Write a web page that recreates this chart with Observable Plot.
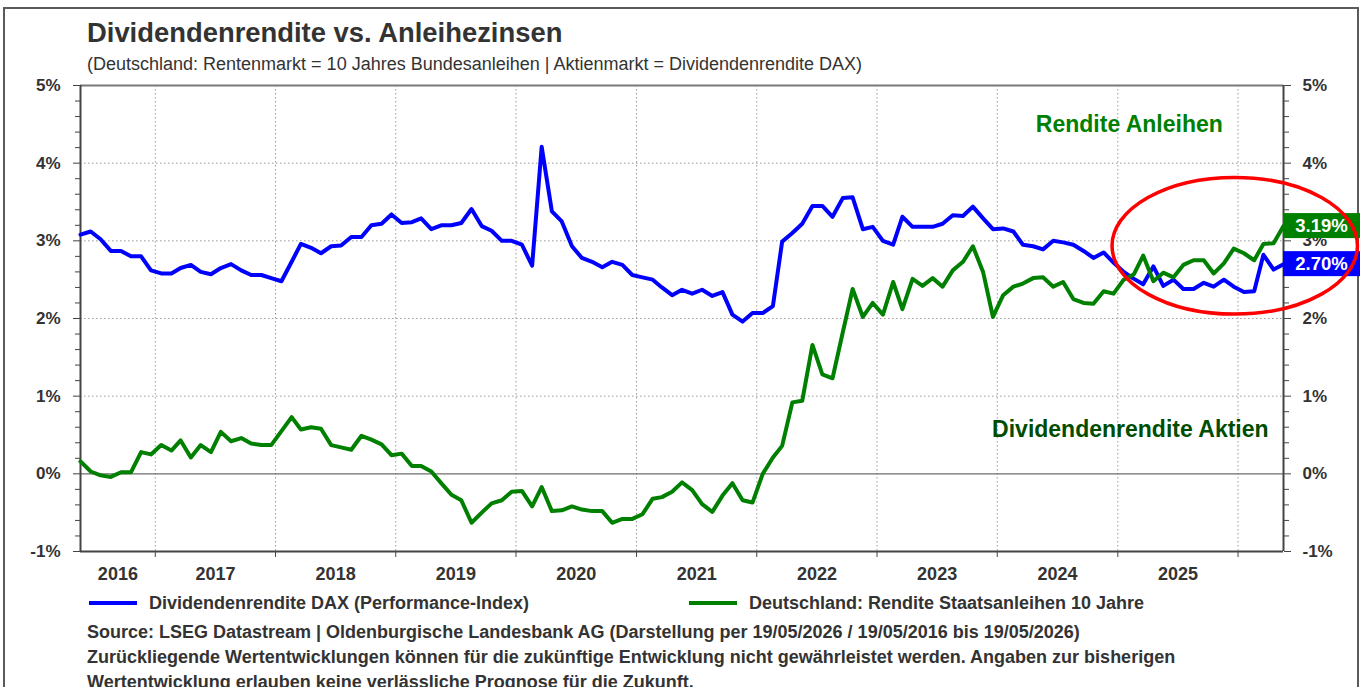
<!DOCTYPE html>
<html>
<head>
<meta charset="utf-8">
<script src="https://cdn.jsdelivr.net/npm/d3@7"></script>
<script src="https://cdn.jsdelivr.net/npm/@observablehq/plot@0.6"></script>
<style>
  html, body { margin: 0; padding: 0; background: #fff; }
  body { width: 1366px; height: 687px; position: relative; overflow: hidden;
         font-family: "Liberation Sans", Arial, sans-serif; color: #333; }
  #frame { position: absolute; left: 3px; top: 7px; width: 1356px; height: 720px;
           border: 2px solid #5a5a5a; box-sizing: border-box; }
  .abs { position: absolute; white-space: nowrap; }
  #title { left: 87px; top: 19px; font-size: 27.4px; line-height: 28px; font-weight: bold; }
  #subtitle { left: 87px; top: 55px; font-size: 18px; line-height: 18px; }
  #chart { position: absolute; left: 0; top: 70px; }
  .leg { top: 594px; font-size: 18px; line-height: 18px; font-weight: bold; display: flex; align-items: center; }
  .sw { display: inline-block; width: 48px; height: 4px; margin-right: 12px; }
  #source { left: 87px; top: 620px; font-size: 18px; line-height: 25px; font-weight: bold; }
</style>
</head>
<body>
<div id="frame"></div>
<div id="title" class="abs">Dividendenrendite vs. Anleihezinsen</div>
<div id="subtitle" class="abs">(Deutschland: Rentenmarkt = 10 Jahres Bundesanleihen | Aktienmarkt = Dividendenrendite DAX)</div>
<div id="chart"></div>
<div class="abs leg" style="left:89px"><span class="sw" style="background:#0000ff"></span>Dividendenrendite DAX (Performance-Index)</div>
<div class="abs leg" style="left:689px"><span class="sw" style="background:#008000"></span>Deutschland: Rendite Staatsanleihen 10 Jahre</div>
<div id="source" class="abs">Source: LSEG Datastream | Oldenburgische Landesbank AG (Darstellung per 19/05/2026 / 19/05/2016 bis 19/05/2026)<br>Zurückliegende Wertentwicklungen können für die zukünftige Entwicklung nicht gewährleistet werden. Angaben zur bisherigen<br>Wertentwicklung erlauben keine verlässliche Prognose für die Zukunft.</div>
<script>
// ---- data (monthly observations, 19/05/2016 .. 19/05/2026) ----
const startDate = new Date("2016-05-19T00:00:00Z");
const endDate = new Date("2026-05-19T00:00:00Z");

const dividendYieldDAX = [
  3.08, 3.12, 3.02, 2.87, 2.87, 2.80, 2.80, 2.62, 2.58, 2.58,
  2.65, 2.69, 2.60, 2.57, 2.65, 2.70, 2.62, 2.56, 2.56, 2.52,
  2.48, 2.73, 2.96, 2.91, 2.84, 2.93, 2.94, 3.05, 3.05, 3.20,
  3.22, 3.34, 3.23, 3.24, 3.29, 3.15, 3.20, 3.20, 3.23, 3.41,
  3.19, 3.13, 3.00, 3.00, 2.95, 2.68, 4.21, 3.38, 3.25, 2.93,
  2.78, 2.73, 2.66, 2.73, 2.69, 2.56, 2.53, 2.50, 2.40, 2.30,
  2.37, 2.32, 2.37, 2.29, 2.34, 2.05, 1.96, 2.07, 2.07, 2.16,
  2.99, 3.10, 3.22, 3.45, 3.45, 3.31, 3.55, 3.56, 3.15, 3.18,
  3.00, 2.95, 3.31, 3.18, 3.18, 3.18, 3.22, 3.33, 3.32, 3.44,
  3.29, 3.15, 3.16, 3.12, 2.95, 2.93, 2.89, 3.00, 2.98, 2.95,
  2.87, 2.78, 2.85, 2.72, 2.60, 2.51, 2.44, 2.67, 2.42, 2.50,
  2.38, 2.38, 2.46, 2.41, 2.50, 2.41, 2.34, 2.35, 2.82, 2.63,
  2.70
];
const bundYield10Y = [
  0.16, 0.03, -0.02, -0.04, 0.02, 0.02, 0.28, 0.25, 0.37, 0.30,
  0.43, 0.21, 0.37, 0.28, 0.54, 0.42, 0.46, 0.39, 0.37, 0.37,
  0.55, 0.73, 0.57, 0.60, 0.58, 0.37, 0.34, 0.31, 0.49, 0.44,
  0.38, 0.24, 0.26, 0.10, 0.10, 0.03, -0.12, -0.27, -0.34, -0.63,
  -0.50, -0.38, -0.34, -0.23, -0.22, -0.42, -0.17, -0.48, -0.47, -0.42,
  -0.46, -0.48, -0.48, -0.63, -0.58, -0.58, -0.52, -0.32, -0.30, -0.23,
  -0.11, -0.21, -0.39, -0.49, -0.28, -0.12, -0.34, -0.37, 0.00, 0.21,
  0.36, 0.92, 0.94, 1.66, 1.28, 1.23, 1.82, 2.38, 2.02, 2.20,
  2.05, 2.47, 2.12, 2.51, 2.42, 2.52, 2.41, 2.62, 2.73, 2.93,
  2.60, 2.02, 2.30, 2.41, 2.45, 2.52, 2.53, 2.41, 2.47, 2.25,
  2.20, 2.19, 2.35, 2.32, 2.50, 2.57, 2.81, 2.48, 2.59, 2.53,
  2.69, 2.75, 2.75, 2.58, 2.71, 2.90, 2.84, 2.75, 2.96, 2.97,
  3.19
];
const lastDAX = "2.70%";
const lastBund = "3.19%";

const yearLabels = [2016, 2017, 2018, 2019, 2020, 2021, 2022, 2023, 2024, 2025];
const yearBoundaries = [2017, 2018, 2019, 2020, 2021, 2022, 2023, 2024, 2025, 2026];
const yMajorTicks = [-1, 0, 1, 2, 3, 4, 5];
const yGridTicks = [1, 2, 3, 4];
const yMinorTicks = [-0.8, -0.6, -0.4, -0.2, 0.2, 0.4, 0.6, 0.8, 1.2, 1.4, 1.6, 1.8,
  2.2, 2.4, 2.6, 2.8, 3.2, 3.4, 3.6, 3.8, 4.2, 4.4, 4.6, 4.8];

const annotations = [
  {date: new Date("2025-02-05T00:00:00Z"), value: 4.49, text: "Rendite Anleihen", color: "#008000"},
  {date: new Date("2025-02-08T00:00:00Z"), value: 0.57, text: "Dividendenrendite Aktien", color: "#004d00"}
];
const ellipseBounds = {x1: new Date("2024-12-16T00:00:00Z"), x2: new Date("2026-12-31T00:00:00Z"), y1: 3.81, y2: 2.05};

// ---- build tables ----
const dates = dividendYieldDAX.map((_, i) => d3.utcMonth.offset(startDate, i));
const daxData = dates.map((d, i) => ({date: d, value: dividendYieldDAX[i]}));
const bundData = dates.map((d, i) => ({date: d, value: bundYield10Y[i]}));
const yearTicks = yearBoundaries.map(y => new Date(Date.UTC(y, 0, 1)));
const yearLabelData = yearLabels.map(y => {
  const a = Math.max(+new Date(Date.UTC(y, 0, 1)), +startDate);
  const b = Math.min(+new Date(Date.UTC(y + 1, 0, 1)), +endDate);
  return {date: new Date((a + b) / 2), text: String(y)};
});

const W = 1366, H = 520;
const plot = Plot.plot({
  width: W, height: H,
  marginLeft: 80, marginRight: 83, marginTop: 15, marginBottom: 39,
  x: {type: "utc", domain: [startDate, endDate]},
  y: {domain: [-1, 5]},
  style: {fontFamily: "'Liberation Sans', Arial, sans-serif", color: "#333", background: "transparent", overflow: "visible"},
  marks: [
    Plot.gridY(yGridTicks, {stroke: "#9a9a9a", strokeOpacity: 1, strokeDasharray: "1.5,2.5"}),
    Plot.gridX(yearTicks, {stroke: "#9a9a9a", strokeOpacity: 1, strokeDasharray: "1.5,2.5"}),
    Plot.ruleY([0], {stroke: "#6e6e6e", strokeWidth: 1.3}),
    Plot.ruleY([5], {stroke: "#7a7a7a", strokeWidth: 2}),
    Plot.ruleY([-1], {stroke: "#444", strokeWidth: 2}),
    Plot.ruleX([startDate], {stroke: "#444", strokeWidth: 2}),
    Plot.ruleX([endDate], {stroke: "#444", strokeWidth: 2}),
    Plot.axisY(yMinorTicks, {anchor: "left", tickSize: 5, tickFormat: () => "", stroke: "#444", label: null}),
    Plot.axisY(yMinorTicks, {anchor: "right", tickSize: 5, tickFormat: () => "", stroke: "#444", label: null}),
    Plot.axisY(yMajorTicks, {anchor: "left", tickSize: 7, tickPadding: 13, tickFormat: d => d + "%",
      fontSize: 17, fontWeight: "bold", stroke: "#444", label: null}),
    Plot.axisY(yMajorTicks, {anchor: "right", tickSize: 7, tickPadding: 12, tickFormat: d => d + "%",
      fontSize: 17, fontWeight: "bold", stroke: "#444", label: null}),
    Plot.axisX(yearTicks, {anchor: "bottom", tickSize: 6, tickFormat: () => "", stroke: "#444", label: null}),
    Plot.text(yearLabelData, {x: "date", y: () => -1, dy: 23, text: "text", fontSize: 18, fontWeight: "bold", fill: "#333"}),
    Plot.line(daxData, {x: "date", y: "value", stroke: "#0000ff", strokeWidth: 4}),
    Plot.line(bundData, {x: "date", y: "value", stroke: "#008000", strokeWidth: 4}),
    Plot.text(annotations, {x: "date", y: "value", text: "text", fill: "color", fontSize: 23, fontWeight: "bold"})
  ]
});
document.getElementById("chart").appendChild(plot);

// ---- last-value boxes and highlight ellipse, positioned through the plot's scales ----
const xs = plot.scale("x"), ys = plot.scale("y");
const svg = d3.select(plot);
const boxX = W - 83, boxW = 77, boxH = 25;
[[bundYield10Y[bundYield10Y.length - 1], lastBund, "#008000"],
 [dividendYieldDAX[dividendYieldDAX.length - 1], lastDAX, "#0000ff"]].forEach(([v, label, color]) => {
  const cy = ys.apply(v);
  svg.append("rect").attr("x", boxX).attr("y", cy - boxH / 2).attr("width", boxW).attr("height", boxH).attr("fill", color);
  svg.append("text").attr("x", boxX + boxW / 2).attr("y", cy).attr("dy", "0.35em")
    .attr("text-anchor", "middle").attr("fill", "#fff").attr("font-size", 18.5).attr("font-weight", "bold")
    .attr("font-family", "'Liberation Sans', Arial, sans-serif").text(label);
});
const ex1 = xs.apply(ellipseBounds.x1), ex2 = xs.apply(ellipseBounds.x2);
const ey1 = ys.apply(ellipseBounds.y1), ey2 = ys.apply(ellipseBounds.y2);
svg.append("ellipse").attr("cx", (ex1 + ex2) / 2).attr("cy", (ey1 + ey2) / 2)
  .attr("rx", (ex2 - ex1) / 2).attr("ry", Math.abs(ey2 - ey1) / 2)
  .attr("fill", "none").attr("stroke", "#ff0000").attr("stroke-width", 3.5);
</script>
</body>
</html>
